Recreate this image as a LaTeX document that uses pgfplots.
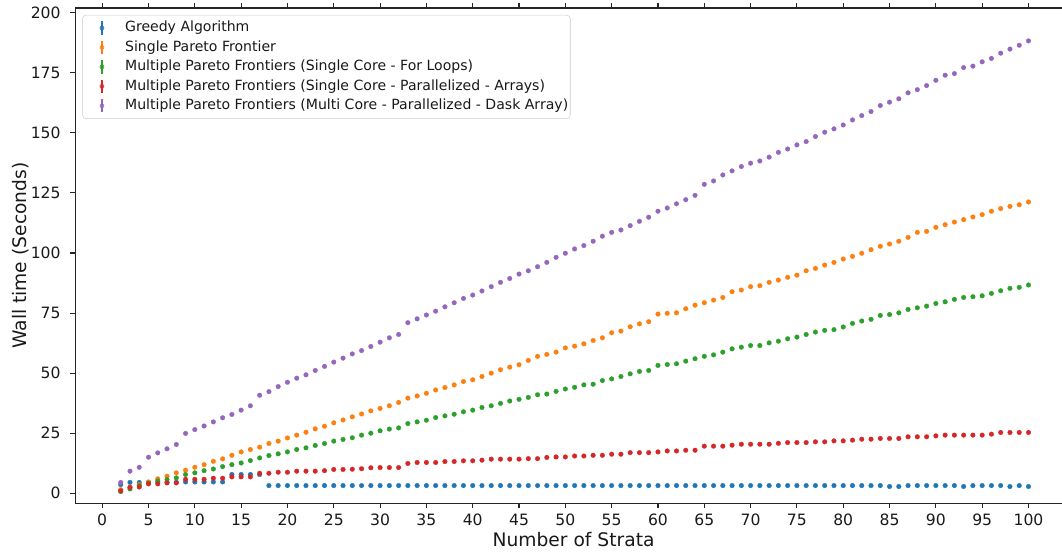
\documentclass[border=0pt]{standalone}
\usepackage{fontspec}
\setmainfont{DejaVu Sans}
\usepackage{pgfplots}
\pgfplotsset{compat=1.18}
\usepackage{pgfplotstable}
\definecolor{C0}{HTML}{1F77B4}
\definecolor{C1}{HTML}{FF7F0E}
\definecolor{C2}{HTML}{2CA02C}
\definecolor{C3}{HTML}{D62728}
\definecolor{C4}{HTML}{9467BD}

\pgfplotstableread{
x g s f r d
2 3.6 1.5 0.7 1.0 4.5
3 4.5 2.5 1.8 2.4 9.2
4 4.5 3.6 3.2 2.6 10.8
5 4.5 4.7 4.2 3.9 15.0
6 4.6 6.0 5.1 3.9 16.8
7 4.6 7.1 5.7 4.3 18.5
8 4.6 8.5 6.4 4.3 20.3
9 4.7 9.6 7.8 5.8 24.9
10 4.7 10.8 8.5 5.8 26.5
11 4.7 11.9 9.4 5.8 28.0
12 4.7 13.3 10.1 6.25 29.7
13 4.7 14.3 11.1 6.25 31.4
14 7.8 15.8 11.9 6.8 32.8
15 7.8 17.2 12.6 6.8 34.6
16 7.8 18.2 13.6 6.8 36.4
17 7.8 19.2 14.7 8.3 40.8
18 3.2 20.7 15.7 8.3 42.3
19 3.2 21.7 16.4 8.75 44.4
20 3.2 23.0 17.2 8.75 46.2
21 3.2 24.2 18.2 9.2 47.9
22 3.2 25.4 18.9 9.2 49.3
23 3.2 26.8 19.9 9.2 51.1
24 3.2 27.9 20.7 9.4 52.8
25 3.2 29.3 21.7 9.9 54.6
26 3.2 30.5 22.4 9.9 56.25
27 3.2 31.8 23.1 10.0 58.0
28 3.2 33.0 24.2 10.2 59.4
29 3.2 34.3 25.0 10.6 61.1
30 3.2 35.3 26.0 10.7 62.9
31 3.2 36.4 26.7 10.7 64.7
32 3.2 37.8 27.2 10.7 66.1
33 3.2 39.6 29.0 12.4 71.0
34 3.2 40.5 29.7 12.8 72.6
35 3.2 41.6 30.4 12.8 74.2
36 3.2 43.0 31.5 12.8 75.8
37 3.2 44.0 32.2 13.2 77.6
38 3.2 45.1 32.9 13.2 79.3
39 3.2 46.5 33.9 13.5 81.1
40 3.2 47.2 34.6 13.5 82.5
41 3.2 48.6 35.7 13.75 84.2
42 3.2 50.0 36.4 14.2 86.0
43 3.2 51.4 37.4 14.2 87.8
44 3.2 52.5 38.4 14.2 89.4
45 3.2 53.5 39.1 14.2 91.25
46 3.2 55.3 39.9 14.4 92.6
47 3.2 57.0 41.0 14.4 94.3
48 3.2 57.8 41.3 14.9 96.1
49 3.2 58.75 42.4 15.1 98.2
50 3.2 60.5 43.4 15.1 99.9
51 3.2 61.25 44.1 15.5 101.7
52 3.2 62.2 45.1 15.5 103.1
53 3.2 63.6 45.4 15.8 104.9
54 3.2 64.7 46.9 15.8 107.0
55 3.2 66.8 47.6 16.25 108.6
56 3.2 67.5 48.6 16.25 109.6
57 3.2 69.3 49.7 16.9 111.4
58 3.2 70.5 50.7 16.9 113.2
59 3.2 71.4 51.1 16.9 114.9
60 3.2 74.6 53.2 17.2 117.4
61 3.2 74.9 53.6 17.6 118.75
62 3.2 75.1 53.9 17.6 120.5
63 3.2 76.8 55.0 17.9 122.2
64 3.2 78.3 56.0 17.9 124.0
65 3.2 79.3 57.0 19.6 128.6
66 3.2 80.4 57.6 19.6 130.0
67 3.2 81.5 58.75 19.6 132.5
68 3.2 83.9 60.1 20.0 134.2
69 3.2 84.6 60.8 20.4 136.0
70 3.2 86.0 61.5 20.4 137.4
71 3.2 86.4 61.5 20.4 138.3
72 3.2 87.8 62.6 20.4 139.9
73 3.2 88.75 63.3 20.8 141.9
74 3.2 89.9 64.3 21.1 143.3
75 3.2 90.8 65.0 21.1 145.0
76 3.2 92.6 66.1 21.1 146.4
77 3.2 93.6 67.1 21.4 148.5
78 3.2 95.0 67.8 21.4 150.3
79 3.2 96.1 68.1 21.8 151.7
80 3.2 97.5 69.2 21.8 153.3
81 3.2 98.6 70.7 22.1 155.4
82 3.2 99.9 71.7 22.5 157.2
83 3.2 101.4 72.4 22.5 158.9
84 3.2 102.8 74.0 22.8 161.4
85 2.8 103.75 74.4 22.8 162.8
86 2.8 104.9 75.1 22.8 164.2
87 3.2 106.5 76.5 23.5 166.7
88 3.2 108.6 77.2 23.5 168.0
89 3.2 109.0 77.9 23.5 169.7
90 3.2 110.7 79.0 23.9 171.9
91 3.2 111.8 79.7 24.2 174.0
92 3.2 112.9 80.7 24.2 174.7
93 2.8 113.9 81.5 24.2 177.2
94 3.2 115.0 81.8 24.2 177.8
95 3.2 116.0 82.2 24.2 179.6
96 3.2 117.4 83.2 24.6 181.0
97 3.2 118.5 84.3 25.3 183.2
98 2.8 119.4 85.3 25.3 184.9
99 3.2 120.1 85.7 25.3 186.5
100 2.8 121.25 86.7 25.3 188.3
}\strata

\pgfplotsset{
  ebar/.style={color=#1, only marks, mark=*, mark size=1.75pt,
    mark options={line width=0.2pt},
    legend image code/.code={
      \path[draw=none, fill=none] (0pt,-5pt) rectangle (30.4pt,5pt);
      \draw[color=#1, line width=1.4pt, rounded corners=0pt] (14.5pt,-5pt) -- (14.5pt,5pt);
      \fill[color=#1, draw=none] (14.5pt,0pt) circle (1.8pt);
    }},
}

\begin{document}
\begin{tikzpicture}
\useasboundingbox (-56.5pt,-36.5pt) rectangle (740pt,377.5pt);
\begin{axis}[
  scale only axis,
  width=748.9pt, height=371.5pt,
  xmin=-2.9, xmax=104.9,
  ymin=-4.2, ymax=202,
  xtick={0,5,...,100},
  ytick={0,25,...,200},
  tick align=outside,
  major tick length=3.7pt,
  tick style={black!85, line width=0.8pt},
  axis line style={black!85, line width=0.9pt},
  /pgf/number format/assume math mode=true,
  ticklabel style={font=\fontsize{11.7pt}{14pt}\selectfont, text=black!90},
  xticklabel style={anchor=base, inner sep=0pt, yshift=-12.7pt},
  yticklabel style={anchor=east, inner sep=0pt, xshift=-7.2pt},
  xlabel={Number of Strata},
  ylabel={Wall time (Seconds)},
  every axis x label/.style={at={(axis description cs:0.499,-0.0741)}, anchor=center,
    font=\fontsize{14pt}{17pt}\selectfont, text=black!90},
  every axis y label/.style={at={(axis description cs:-0.0549,0.5)}, rotate=90, anchor=center,
    font=\fontsize{14pt}{17pt}\selectfont, text=black!90},
  legend style={at={(axis description cs:0.007,0.986)}, anchor=north west,
    draw=black!20, rounded corners=2.5pt, fill=white, fill opacity=0.8, text opacity=1,
    font=\fontsize{10.55pt}{12.6pt}\selectfont, text=black!90,
    inner xsep=0pt, inner ysep=3pt, row sep=1.5pt,
    nodes={inner sep=1.5pt, text height=7.8pt, text depth=2.3pt, draw=none, rounded corners=0pt}},
  legend cell align=left,
]
\addplot[ebar=C0] table[x=x, y=g] {\strata};
\addlegendentry{Greedy Algorithm}
\addplot[ebar=C1] table[x=x, y=s] {\strata};
\addlegendentry{Single Pareto Frontier}
\addplot[ebar=C2] table[x=x, y=f] {\strata};
\addlegendentry{Multiple Pareto Frontiers (Single Core - For Loops)}
\addplot[ebar=C3] table[x=x, y=r] {\strata};
\addlegendentry{Multiple Pareto Frontiers (Single Core - Parallelized - Arrays)}
\addplot[ebar=C4] table[x=x, y=d] {\strata};
\addlegendentry{Multiple Pareto Frontiers (Multi Core - Parallelized - Dask Array)}
\end{axis}
\end{tikzpicture}
\end{document}
